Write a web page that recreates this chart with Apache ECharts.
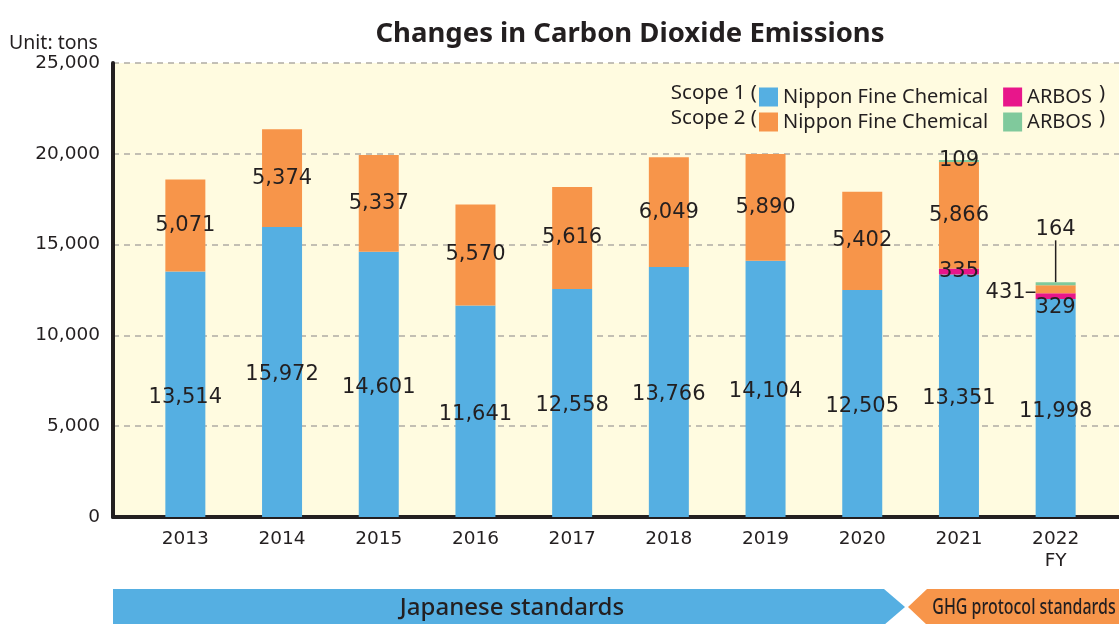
<!DOCTYPE html>
<html>
<head>
    <meta charset="UTF-8">
    <title>CO2 emissions</title>
    <style>
        html, body { margin: 0; padding: 0; background: #fff; }
        #chartDom { width: 1119px; height: 624px; }
    </style>
</head>
<body>

<script src="https://cdn.jsdelivr.net/npm/echarts@6/dist/echarts.min.js"></script>

<div id="chartDom"></div>

<script type="text/javascript">
    // data (tons)
    var years = ['2013', '2014', '2015', '2016', '2017', '2018', '2019', '2020', '2021', '2022\nFY'];
    var scope1Nippon = [13514, 15972, 14601, 11641, 12558, 13766, 14104, 12505, 13351, 11998];
    var scope1Arbos  = [null, null, null, null, null, null, null, null, 335, 329];
    var scope2Nippon = [5071, 5374, 5337, 5570, 5616, 6049, 5890, 5402, 5866, 431];
    var scope2Arbos  = [null, null, null, null, null, null, null, null, 109, 164];
    var yTicks = {min: 0, max: 25000, interval: 5000};

    var TXT = '#231f20';
    var FONT = 'Noto Sans';
    var NUMFONT = 'DejaVu Sans';
    var colors = {
        s1n: '#55afe2',
        s1a: '#e8168b',
        s2n: '#f7954a',
        s2a: '#80c99c'
    };

    var myChart = echarts.init(document.getElementById('chartDom'));

    function fmt(p) {
        if (p.value == null || p.value === '') return '';
        return Number(p.value).toLocaleString('en-US');
    }

    function barSeries(name, values, color, extra) {
        var s = {
            name: name,
            type: 'bar',
            stack: 'total',
            xAxisIndex: 1,
            yAxisIndex: 1,
            barWidth: 40,
            itemStyle: {color: color},
            label: {
                show: true,
                position: 'inside',
                formatter: fmt,
                color: TXT,
                fontSize: 21,
                fontFamily: NUMFONT
            },
            emphasis: {disabled: true},
            data: values.slice()
        };
        if (extra) extra(s);
        return s;
    }

    var series = [
        barSeries('S1 Nippon Fine Chemical', scope1Nippon, colors.s1n, function (s) {
            s.label.offset = [0, 3];
        }),
        barSeries('S1 ARBOS', scope1Arbos, colors.s1a, function (s) {
            // 2022 label sits just under the thin segment
            s.data[9] = {value: scope1Arbos[9], label: {offset: [0, 11]}};
        }),
        barSeries('S2 Nippon Fine Chemical', scope2Nippon, colors.s2n, function (s) {
            s.data[9] = {value: scope2Nippon[9], labelLine: {show: true, lineStyle: {color: TXT, width: 1.5}}};
            s.labelLayout = function (p) {
                return p.dataIndex === 9 ? {dx: -50, dy: 3} : {};
            };
        }),
        barSeries('S2 ARBOS', scope2Arbos, colors.s2a, function (s) {
            s.data[9] = {value: scope2Arbos[9], labelLine: {show: true, lineStyle: {color: TXT, width: 1.5}}};
            s.labelLayout = function (p) {
                return p.dataIndex === 9 ? {dy: -54} : {};
            };
        })
    ];

    var legendText = {fontSize: 20, color: TXT, fontFamily: FONT};

    var option = {
        animation: false,
        textStyle: {fontFamily: FONT, color: TXT},
        title: {
            text: 'Changes in Carbon Dioxide Emissions',
            left: 625,
            textAlign: 'center',
            top: 15,
            textStyle: {fontSize: 27.5, fontWeight: 'bold', color: TXT, fontFamily: FONT}
        },
        legend: [{
            data: ['S1 Nippon Fine Chemical', 'S1 ARBOS'],
            left: 754, top: 82,
            itemWidth: 19, itemHeight: 19, itemGap: 15,
            icon: 'rect',
            selectedMode: false,
            formatter: function (n) { return n.slice(3); },
            textStyle: legendText
        }, {
            data: ['S2 Nippon Fine Chemical', 'S2 ARBOS'],
            left: 754, top: 107,
            itemWidth: 19, itemHeight: 19, itemGap: 15,
            icon: 'rect',
            selectedMode: false,
            formatter: function (n) { return n.slice(3); },
            textStyle: legendText
        }],
        grid: [{
            // frame, background and y scale
            left: 113, right: 0, top: 63, bottom: 107,
            show: true, backgroundColor: '#fffbe0', borderWidth: 0
        }, {
            // the bars themselves
            left: 137, right: 15, top: 63, bottom: 107
        }],
        xAxis: [{
            type: 'category', gridIndex: 0, data: [''],
            axisLine: {show: true, lineStyle: {color: TXT, width: 4}},
            axisTick: {show: false}, axisLabel: {show: false}
        }, {
            type: 'category', gridIndex: 1, data: years,
            axisLine: {show: false}, axisTick: {show: false},
            axisLabel: {fontSize: 18.5, color: TXT, margin: 11, lineHeight: 22, fontFamily: NUMFONT}
        }],
        yAxis: [{
            type: 'value', gridIndex: 0,
            min: yTicks.min, max: yTicks.max, interval: yTicks.interval,
            axisLine: {show: true, lineStyle: {color: TXT, width: 4}},
            axisTick: {show: false},
            axisLabel: {
                fontSize: 18.5, color: TXT, margin: 13, fontFamily: NUMFONT,
                formatter: function (v) { return v.toLocaleString('en-US'); }
            },
            splitLine: {show: true, lineStyle: {color: '#b0aca4', width: 1.5, type: [6, 5]}}
        }, {
            type: 'value', gridIndex: 1,
            min: yTicks.min, max: yTicks.max, interval: yTicks.interval,
            show: false
        }],
        graphic: [
            {
                type: 'text', left: 9, top: 33,
                style: {text: 'Unit: tons', fontSize: 19.5, fill: TXT, fontFamily: FONT}
            },
            {
                type: 'text', right: 1119 - 757, top: 83,
                style: {text: 'Scope 1 (', fontSize: 20.5, fill: TXT, fontFamily: FONT}
            },
            {
                type: 'text', right: 1119 - 757, top: 108,
                style: {text: 'Scope 2 (', fontSize: 20.5, fill: TXT, fontFamily: FONT}
            },
            {
                type: 'text', left: 1099, top: 83,
                style: {text: ')', fontSize: 20.5, fill: TXT, fontFamily: FONT}
            },
            {
                type: 'text', left: 1099, top: 108,
                style: {text: ')', fontSize: 20.5, fill: TXT, fontFamily: FONT}
            },
            // standards banner at the bottom
            {
                type: 'polygon',
                shape: {points: [[113, 589], [884, 589], [905, 607], [884, 625], [113, 625]]},
                style: {fill: '#55afe2'}
            },
            {
                type: 'polygon',
                shape: {points: [[927, 589], [1119, 589], [1119, 625], [927, 625], [908, 607]]},
                style: {fill: '#f7954a'}
            },
            {
                type: 'text', x: 512, y: 608,
                style: {text: 'Japanese standards', fontSize: 24, fontWeight: 500, fill: TXT,
                        fontFamily: FONT, align: 'center', verticalAlign: 'middle'}
            },
            {
                type: 'text', x: 1024, y: 608, scaleX: 0.76,
                style: {text: 'GHG protocol standards', fontSize: 21, fontWeight: 500, fill: TXT,
                        fontFamily: FONT, align: 'center', verticalAlign: 'middle'}
            }
        ],
        series: series
    };

    myChart.setOption(option);
</script>
</body>
</html>
